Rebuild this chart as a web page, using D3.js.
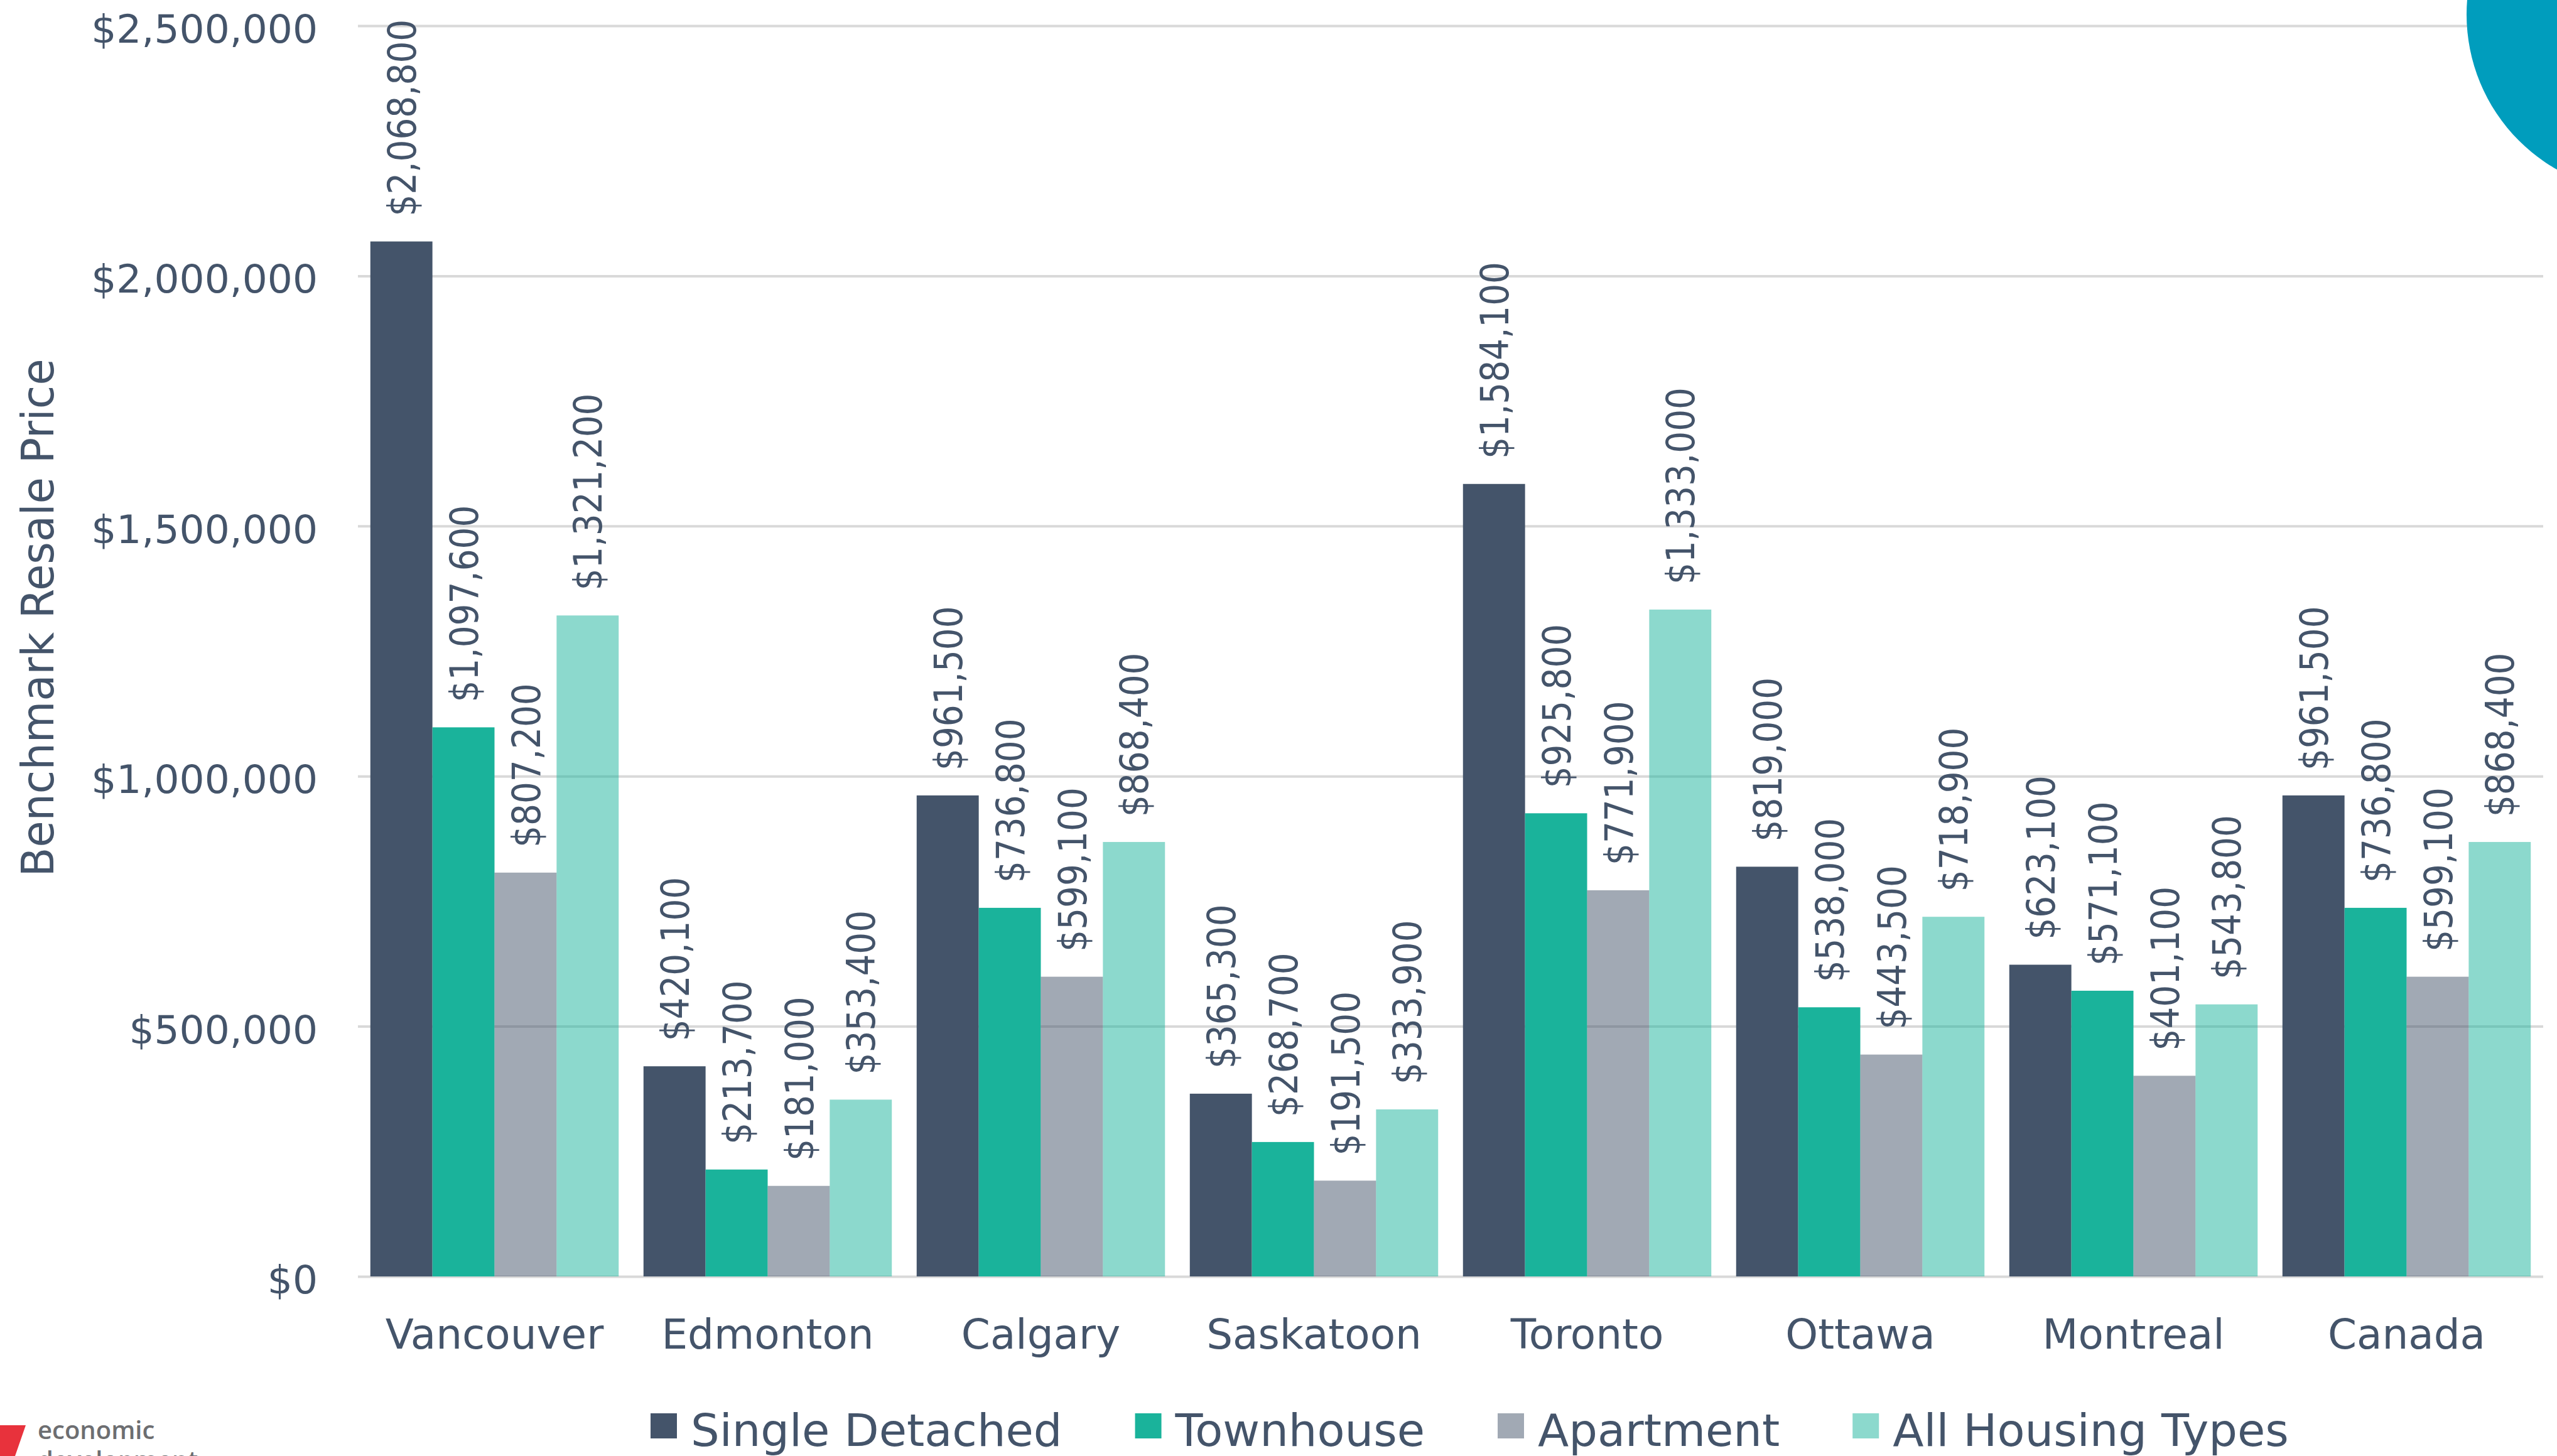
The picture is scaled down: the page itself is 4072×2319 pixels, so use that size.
<!DOCTYPE html>
<html>
<head>
<meta charset="utf-8">
<script src="https://cdn.jsdelivr.net/npm/d3@7"></script>
<style>
  body { margin: 0; background: #fff; }
  svg { display: block; font-family: "DejaVu Sans", Verdana, sans-serif; }
</style>
</head>
<body>
<svg id="chart" width="4072" height="2319"></svg>
<script>
// data
var cities = ['Vancouver', 'Edmonton', 'Calgary', 'Saskatoon', 'Toronto', 'Ottawa', 'Montreal', 'Canada'];
var seriesNames = ['Single Detached', 'Townhouse', 'Apartment', 'All Housing Types'];
var singleDetached = [2068800, 420100, 961500, 365300, 1584100, 819000, 623100, 961500];
var townhouse      = [1097600, 213700, 736800, 268700, 925800, 538000, 571100, 736800];
var apartment      = [807200, 181000, 599100, 191500, 771900, 443500, 401100, 599100];
var allHousing     = [1321200, 353400, 868400, 333900, 1333000, 718900, 543800, 868400];
var yTicks = [0, 500000, 1000000, 1500000, 2000000, 2500000];

var seriesValues = [singleDetached, townhouse, apartment, allHousing];
var colors = ['#44546a', '#1ab39b', '#44546a', '#1ab39b'];
var opacities = [1, 1, 0.5, 0.5];
var textColor = '#44546a';

var svg = d3.select('svg#chart');

// plot area (note: "top" is reserved on window, so use plot* names)
var plotLeft = 570, plotRight = 4050, plotTop = 41, plotBottom = 2033;

var x0 = d3.scaleBand().domain(cities).range([plotLeft, plotRight]).padding(0);
var x1 = d3.scaleBand().domain(seriesNames).range([0, x0.bandwidth()])
	.paddingInner(0).paddingOuter(0.2);
var y = d3.scaleLinear().domain([0, 2500000]).range([plotBottom, plotTop]);
var fmt = d3.format('$,');

// y axis with gridlines
var yAxis = d3.axisLeft(y)
	.tickValues(yTicks)
	.tickFormat(fmt)
	.tickSize(-(plotRight - plotLeft))
	.tickPadding(64);

var yg = svg.append('g')
	.attr('transform', 'translate(' + plotLeft + ',0)')
	.call(yAxis);
yg.select('.domain').remove();
yg.selectAll('.tick line')
	.style('stroke', '#d9d9d9')
	.style('stroke-width', 4);
yg.selectAll('.tick text')
	.attr('dy', '0.42em')
	.style('font-size', '63px')
	.style('font-family', '"DejaVu Sans", Verdana, sans-serif')
	.style('fill', textColor);

// bars
var rows = [];
cities.forEach(function (c, i) {
	seriesNames.forEach(function (s, j) {
		rows.push({ city: c, series: s, si: j, value: seriesValues[j][i] });
	});
});

svg.append('g')
	.selectAll('rect')
	.data(rows)
	.enter()
	.append('rect')
	.attr('x', function (d) { return x0(d.city) + x1(d.series); })
	.attr('y', function (d) { return y(d.value); })
	.attr('width', x1.bandwidth())
	.attr('height', function (d) { return y(0) - y(d.value); })
	.style('fill', function (d) { return colors[d.si]; })
	.style('fill-opacity', function (d) { return opacities[d.si]; });

// rotated value labels above each bar
svg.append('g')
	.selectAll('text')
	.data(rows)
	.enter()
	.append('text')
	.attr('transform', function (d) {
		var cx = x0(d.city) + x1(d.series) + x1.bandwidth() / 2;
		return 'translate(' + cx + ',' + (y(d.value) - 40) + ') rotate(-90) scale(0.87,1)';
	})
	.attr('dy', '0.36em')
	.style('font-size', '63px')
	.style('fill', textColor)
	.text(function (d) { return fmt(d.value); });

// category labels
svg.append('g')
	.selectAll('text')
	.data(cities)
	.enter()
	.append('text')
	.attr('x', function (d) { return x0(d) + x0.bandwidth() / 2; })
	.attr('y', 2148)
	.attr('text-anchor', 'middle')
	.style('font-size', '66px')
	.style('fill', textColor)
	.text(function (d) { return d; });

// y axis title
svg.append('text')
	.attr('transform', 'translate(85,984) rotate(-90) scale(0.95,1)')
	.attr('text-anchor', 'middle')
	.style('font-size', '72px')
	.style('fill', textColor)
	.text('Benchmark Resale Price');

// legend
var legend = svg.append('g');
var lx = 1036;
seriesNames.forEach(function (s, j) {
	legend.append('rect')
		.attr('x', lx).attr('y', 2251)
		.attr('width', 42).attr('height', 40)
		.style('fill', colors[j])
		.style('fill-opacity', opacities[j]);
	var t = legend.append('text')
		.attr('x', lx + 64).attr('y', 2303)
		.style('font-size', '72px')
		.style('fill', textColor)
		.text(s);
	lx = lx + 64 + t.node().getComputedTextLength() + 116;
});

// decorative circle, top right (sits over the top gridline)
svg.append('circle')
	.attr('cx', 4212).attr('cy', 23).attr('r', 284)
	.style('fill', '#009dbd');

// logo, bottom left
svg.append('path')
	.attr('d', 'M0,2270 L41,2270 L24,2319 L0,2319 Z')
	.style('fill', '#e8323c');
svg.append('text')
	.attr('x', 60).attr('y', 2292)
	.style('font-family', '"Open Sans", sans-serif')
	.style('font-weight', 600)
	.style('font-size', '40px')
	.style('fill', '#6d6e71')
	.text('economic');
svg.append('text')
	.attr('x', 60).attr('y', 2340)
	.style('font-family', '"Open Sans", sans-serif')
	.style('font-weight', 600)
	.style('font-size', '40px')
	.style('fill', '#6d6e71')
	.text('development');
</script>
</body>
</html>
